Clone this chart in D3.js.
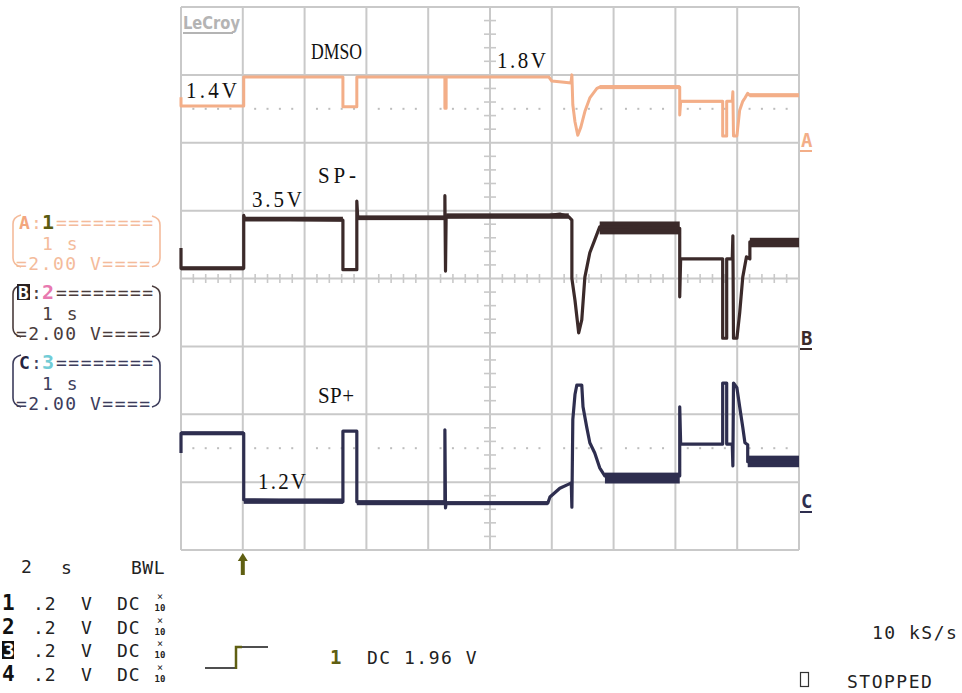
<!DOCTYPE html>
<html><head><meta charset="utf-8">
<script src="https://cdn.jsdelivr.net/npm/d3@7"></script>
<style>
html,body{margin:0;padding:0;background:#fff;}
svg{display:block;}
</style></head><body>
<svg id="c" width="962" height="693"></svg>
<script>
// ================= DATA =================
const timeTicks = [-2, 0, 2, 4, 6, 8, 10, 12, 14, 16, 18];   // s, 2 s/div
const divTicks = [-4, -3, -2, -1, 0, 1, 2, 3, 4];             // screen divisions
const channelNames = ["DMSO", "SP-", "SP+"];
const levelLabels = ["1.4V", "1.8V", "3.5V", "1.2V"];

// [time s, volts]
const dmsoTrace = [[-2.00,1.51],[-2.00,1.38],[0.03,1.38],[0.03,1.81],[3.24,1.81],[3.24,1.37],[3.69,1.37],[3.69,1.81],
 [6.54,1.81],[6.54,1.35],[6.58,1.35],[6.58,1.81],[9.90,1.81],[10.00,1.75],[10.40,1.73],[10.62,1.72],[10.65,1.84],
 [10.68,1.40],[10.75,1.15],[10.84,0.95],[10.94,1.07],[11.07,1.30],[11.23,1.50],[11.46,1.64],[11.55,1.66],[14.14,1.66],
 [14.14,1.25],[14.17,1.45],[15.53,1.45],[15.53,0.94],[15.66,0.94],[15.66,1.45],[15.84,1.45],[15.86,1.59],[15.88,0.94],
 [15.99,0.94],[16.08,1.32],[16.18,1.45],[16.25,1.50],[16.34,1.57],[16.40,1.54],[18.00,1.54]];
const spMinusTrace = [[-2.00,3.07],[-2.00,2.77],[0.03,2.77],[0.03,3.55],[0.06,3.50],[3.24,3.48],[3.24,2.75],[3.69,2.75],
 [3.69,3.76],[3.72,3.51],[6.54,3.52],[6.54,3.84],[6.56,2.73],[6.58,3.53],[9.94,3.55],[10.26,3.57],[10.55,3.53],[10.65,3.48],
 [10.65,2.62],[10.75,2.30],[10.87,1.82],[10.97,2.01],[11.07,2.64],[11.23,3.00],[11.39,3.19],[11.55,3.38],[14.14,3.36],
 [14.14,2.35],[14.17,2.91],[15.53,2.91],[15.53,1.74],[15.66,1.74],[15.66,2.91],[15.84,2.91],[15.86,3.25],[15.88,1.74],
 [15.99,1.74],[16.08,2.11],[16.18,2.64],[16.30,2.94],[16.41,2.91],[16.41,3.16],[18.00,3.16]];
const spPlusTrace = [[-2.00,1.89],[-2.00,2.18],[0.03,2.18],[0.03,1.20],[3.24,1.17],[3.24,2.21],[3.69,2.21],[3.69,1.17],
 [6.54,1.17],[6.54,2.23],[6.56,1.08],[6.58,1.15],[9.87,1.15],[9.94,1.24],[10.26,1.37],[10.55,1.43],[10.63,1.45],[10.65,1.09],
 [10.68,2.38],[10.75,2.75],[10.81,2.89],[10.97,2.89],[11.01,2.57],[11.13,2.27],[11.23,2.04],[11.39,1.89],[11.55,1.67],
 [11.72,1.55],[14.14,1.55],[14.14,2.57],[14.17,2.02],[15.53,2.02],[15.53,2.92],[15.66,2.92],[15.66,2.02],[15.84,2.02],
 [15.86,1.70],[15.88,2.92],[15.99,2.85],[16.08,2.57],[16.18,2.27],[16.25,2.04],[16.34,2.01],[16.34,1.76],[18.00,1.76]];

// noise envelopes: [t0, t1, vLow, vHigh]
const dmsoBands = [[11.55,14.14,1.63,1.69],[14.17,15.53,1.43,1.47],[16.40,18.00,1.51,1.57]];
const spMinusBands = [[-2.00,0.03,2.74,2.80],[0.06,3.24,3.46,3.53],[3.72,6.54,3.48,3.55],[6.58,10.55,3.50,3.58],
 [11.55,14.14,3.27,3.46],[16.41,18.00,3.08,3.22]];
const spPlusBands = [[-2.00,0.03,2.15,2.21],[0.03,3.24,1.14,1.22],[3.69,6.54,1.12,1.19],[6.58,9.87,1.12,1.18],
 [11.72,14.14,1.44,1.60],[16.34,18.00,1.68,1.85]];

// channel settings
const channelLetters = ["A", "B", "C"];
const channelNums = ["1", "2", "3"];
const chTimeLabel = ["1 s", "1 s", "1 s"];
const chVoltLabel = ["=2.00 V====", "=2.00 V====", "=2.00 V===="];

// bottom status
const timebaseLabel = ["2", "s"];
const rowChannels = ["1", "2", "3", "4"];
const rowVolts = [".2", ".2", ".2", ".2"];
const rowUnits = ["V", "V", "V", "V"];
const rowCoupling = ["DC", "DC", "DC", "DC"];
const triggerText = ["1", "DC 1.96 V"];
const sampleRate = "10 kS/s";
const runState = "STOPPED";

// ================= DRAW =================
const svg = d3.select("#c");
const L = 181, R = 799, T = 7, B = 550;
const x = d3.scaleLinear().domain([-2, 18]).range([L, R]);
const yDiv = d3.scaleLinear().domain([-4, 4]).range([B, T]);
const offsets = [1.16, -2.62, -4.46];   // volts -> divisions offset per channel
const yCh = offsets.map(o => d3.scaleLinear().domain([-4 - o, 4 - o]).range([B, T]));
const colors = ["#f3ae88", "#3b2a2a", "#2e2e4f"];
const gridCol = "#c9c9c9";
const uiFont = "'DejaVu Sans Mono', monospace";
const annFont = "'Liberation Serif', 'DejaVu Serif', serif";

// grid
const g = svg.append("g");
g.selectAll("line.v").data(timeTicks).enter().append("line")
  .attr("x1", d => x(d)).attr("x2", d => x(d)).attr("y1", T).attr("y2", B)
  .attr("stroke", gridCol).attr("stroke-width", 2);
g.selectAll("line.h").data(divTicks).enter().append("line")
  .attr("y1", d => yDiv(d)).attr("y2", d => yDiv(d)).attr("x1", L).attr("x2", R)
  .attr("stroke", gridCol).attr("stroke-width", 2);
// minor ticks
const minorT = d3.range(-2, 18.001, 0.4).filter(t => Math.abs(t - Math.round(t/2)*2) > 0.01);
g.selectAll("line.mt").data(minorT).enter().append("line")
  .attr("x1", d => x(d)).attr("x2", d => x(d)).attr("y1", yDiv(0) - 4.5).attr("y2", yDiv(0) + 4.5)
  .attr("stroke", gridCol).attr("stroke-width", 1.6);
const minorD = d3.range(-4, 4.001, 0.2).filter(d => Math.abs(d - Math.round(d)) > 0.01);
g.selectAll("line.md").data(minorD).enter().append("line")
  .attr("y1", d => yDiv(d)).attr("y2", d => yDiv(d)).attr("x1", x(8) - 6).attr("x2", x(8) + 6)
  .attr("stroke", gridCol).attr("stroke-width", 1.6);
// dotted reference rows
[2.5, -2.5].forEach(lv => {
  g.selectAll(null).data(minorT).enter().append("rect")
    .attr("x", d => x(d) - 1).attr("y", yDiv(lv) - 1).attr("width", 2).attr("height", 2)
    .attr("fill", "#bdbdbd");
});

// LeCroy logo
svg.append("text").attr("x", 183).attr("y", 29).text("LeCroy")
  .attr("font-family", "'DejaVu Sans', sans-serif").attr("font-weight", "bold")
  .attr("font-size", 17).attr("fill", "#b4b4b4").attr("textLength", 57).attr("lengthAdjust", "spacingAndGlyphs");
svg.append("rect").attr("x", 183).attr("y", 32).attr("width", 50).attr("height", 2).attr("fill", "#b4b4b4");

// traces
const traces = [dmsoTrace, spMinusTrace, spPlusTrace];
const bands = [dmsoBands, spMinusBands, spPlusBands];
const widths = [3, 3.2, 3.2];
traces.forEach((tr, i) => {
  const ys = yCh[i];
  svg.append("g").selectAll("rect").data(bands[i]).enter().append("rect")
    .attr("x", d => x(d[0])).attr("width", d => x(d[1]) - x(d[0]))
    .attr("y", d => ys(d[3])).attr("height", d => ys(d[2]) - ys(d[3]))
    .attr("fill", colors[i]);
  const line = d3.line().x(d => x(d[0])).y(d => ys(d[1]));
  svg.append("path").datum(tr).attr("d", line).attr("fill", "none")
    .attr("stroke", colors[i]).attr("stroke-width", widths[i]).attr("stroke-linejoin", "round");
});

// annotations (serif, monospaced look)
function ann(txt, x0, cy, w, squeeze) {
  svg.append("text").text(txt)
    .attr("transform", `translate(${x0},${cy}) scale(1,1.12)`)
    .attr("font-family", annFont).attr("font-size", 21).attr("fill", "#111")
    .attr("dominant-baseline", "central")
    .attr("textLength", w).attr("lengthAdjust", squeeze ? "spacingAndGlyphs" : "spacing");
}
ann(channelNames[0], 311, 51, 51, true);
ann(levelLabels[0], 186, 90, 51);
ann(levelLabels[1], 497, 60, 49);
ann(channelNames[1], 318, 175, 38);
ann(levelLabels[2], 252, 199, 50);
ann(channelNames[2], 318, 395, 36);
ann(levelLabels[3], 258, 481, 48);

// right-side channel markers
const markerY = [149, 347, 510];
channelLetters.forEach((c, i) => {
  svg.append("text").attr("x", 801).attr("y", markerY[i] - 2).text(c)
    .attr("font-family", uiFont).attr("font-weight", "bold").attr("font-size", 19).attr("fill", colors[i]);
  svg.append("rect").attr("x", 800).attr("y", markerY[i] + 1).attr("width", 12).attr("height", 2).attr("fill", colors[i]);
});

// left channel boxes
const boxTop = [214, 284, 354];
const boxCol = ["#f4bb9b", "#4a3c3c", "#3d3d5c"];
const numCol = ["#5b5b10", "#e879b0", "#72ccd6"];
function uiText(txt, xx, yy, opts = {}) {
  return svg.append("text").attr("x", xx).attr("y", yy).text(txt)
    .attr("font-family", uiFont).attr("font-size", opts.size || 18)
    .attr("letter-spacing", opts.ls !== undefined ? opts.ls : 1.5)
    .attr("font-weight", opts.bold ? "bold" : "normal")
    .attr("fill", opts.fill || "#222").attr("dominant-baseline", "central");
}
channelLetters.forEach((c, i) => {
  const t0 = boxTop[i];
  const col = boxCol[i];
  svg.append("path").attr("d", `M21,${t0+1} Q13,${t0+3} 13,${t0+10} L13,${t0+44} Q13,${t0+51} 21,${t0+53}`)
    .attr("fill", "none").attr("stroke", col).attr("stroke-width", 1.6);
  svg.append("path").attr("d", `M152,${t0+2} Q160,${t0+4} 160,${t0+11} L160,${t0+44} Q160,${t0+51} 152,${t0+53}`)
    .attr("fill", "none").attr("stroke", col).attr("stroke-width", 1.6);
  if (i === 1) {
    svg.append("rect").attr("x", 17).attr("y", t0 + 0).attr("width", 13).attr("height", 16).attr("fill", "#2a2222");
    uiText(c, 18, t0 + 8, {bold: true, fill: "#fff", ls: 0});
  } else {
    uiText(c, 19, t0 + 8, {bold: true, fill: i === 0 ? "#f3a77f" : "#23233f", ls: 0});
  }
  uiText(":", 31, t0 + 8, {fill: col, ls: 0});
  uiText(channelNums[i], 42, t0 + 8, {bold: true, fill: numCol[i], size: 20, ls: 0});
  uiText("========", 56, t0 + 8, {fill: col});
  uiText(chTimeLabel[i], 42, t0 + 29, {fill: col});
  uiText(chVoltLabel[i], 16, t0 + 49, {fill: col});
});

// trigger arrow
const trigCol = "#5f5f12";
svg.append("path").attr("d", `M${x(0)},553 L${x(0)-5},561 L${x(0)-2},561 L${x(0)-2},575 L${x(0)+2},575 L${x(0)+2},561 L${x(0)+5},561 Z`)
  .attr("fill", trigCol);

// bottom status text
uiText(timebaseLabel[0], 21, 566);
uiText(timebaseLabel[1], 61, 567);
uiText("BWL", 131, 567, {ls: 0.5});
const rowY = [603, 627, 650, 674];
rowChannels.forEach((c, i) => {
  const yy = rowY[i];
  if (c === "3") {
    svg.append("rect").attr("x", 2).attr("y", yy - 9).attr("width", 12).attr("height", 18).attr("fill", "#111");
    uiText(c, 3, yy, {bold: true, fill: "#fff", size: 19, ls: 0});
  } else {
    uiText(c, 2, yy, {bold: true, fill: "#111", size: 21, ls: 0});
  }
  uiText(rowVolts[i], 33, yy, {ls: 1});
  uiText(rowUnits[i], 81, yy);
  uiText(rowCoupling[i], 117, yy, {ls: 1});
  svg.append("text").attr("x", 160).attr("y", yy - 3).text("×").attr("font-family", uiFont)
    .attr("font-size", 10).attr("text-anchor", "middle").attr("fill", "#222");
  svg.append("text").attr("x", 160).attr("y", yy + 8).text("10").attr("font-family", uiFont)
    .attr("font-size", 9).attr("font-weight", "bold").attr("text-anchor", "middle").attr("fill", "#222");
});

// trigger step symbol
svg.append("path").attr("d", "M205,668 L235,668").attr("stroke", "#222").attr("stroke-width", 1.6);
svg.append("path").attr("d", "M236,669 L236,647 L242,647").attr("stroke", trigCol).attr("stroke-width", 2.5).attr("fill", "none");
svg.append("path").attr("d", "M242,647 L268,647").attr("stroke", "#222").attr("stroke-width", 1.6);
uiText(triggerText[0], 330, 657, {bold: true, fill: trigCol, size: 19, ls: 0});
uiText(triggerText[1], 367, 657);

uiText(sampleRate, 872, 632);
svg.append("rect").attr("x", 800.5).attr("y", 672.5).attr("width", 8).attr("height", 14)
  .attr("fill", "none").attr("stroke", "#333").attr("stroke-width", 1.2);
uiText(runState, 847, 681);
</script>
</body></html>
